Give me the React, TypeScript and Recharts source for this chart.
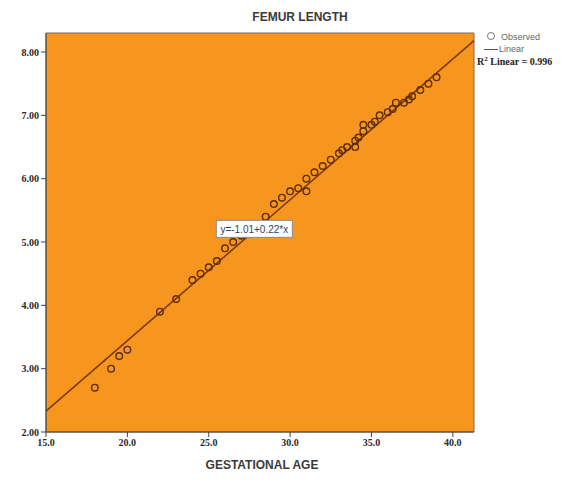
import React from "react";
import {
  ScatterChart,
  Scatter,
  XAxis,
  YAxis,
  ReferenceArea,
  ReferenceLine,
  ReferenceDot,
} from "recharts";

const gestAge = [
  18, 19, 19.5, 20, 22, 23, 24, 24.5, 25, 25.5, 26, 26.5, 27, 28.5, 29, 29.5, 30, 30.5, 31, 31, 31.5, 32,
  32.5, 33, 33.2, 33.5, 34, 34, 34.2, 34.5, 34.5, 35, 35.2, 35.5, 36, 36.3, 36.5, 37, 37.3, 37.5, 38, 38.5, 39,
];
const femurLength = [
  2.7, 3.0, 3.2, 3.3, 3.9, 4.1, 4.4, 4.5, 4.6, 4.7, 4.9, 5.0, 5.1, 5.4, 5.6, 5.7, 5.8, 5.85, 5.8, 6.0, 6.1, 6.2,
  6.3, 6.4, 6.45, 6.5, 6.6, 6.5, 6.65, 6.75, 6.85, 6.85, 6.9, 7.0, 7.05, 7.1, 7.2, 7.2, 7.25, 7.3, 7.4, 7.5, 7.6,
];

const xTicks = [15, 20, 25, 30, 35, 40];
const yTicks = [2, 3, 4, 5, 6, 7, 8];
const xDomain = [15, 41.3];
const yDomain = [2, 8.3];

// fitted line ends
const fitStart = { x: 15, y: 2.33 };
const fitEnd = { x: 41.3, y: 8.18 };
const equationText = "y=-1.01+0.22*x";
const equationPos = { x: 27.8, y: 5.2 };

const points = gestAge.map((x, i) => ({ x, y: femurLength[i] }));

const ORANGE = "#F7961E";
const DARK = "#5b2c06";

const tickStyle = {
  fontFamily: "'Liberation Serif', 'DejaVu Serif', serif",
  fontSize: 10,
  fontWeight: 700,
  fill: "#2a2a2a",
};

const EquationBox = (props: any) => {
  const { cx, cy } = props;
  return (
    <g>
      <rect x={cx - 38} y={cy - 9} width={76} height={17} fill="#fff" stroke="#8a8a8a" strokeWidth={1} />
      <text
        x={cx}
        y={cy + 3.5}
        textAnchor="middle"
        fontFamily="Arial, 'Liberation Sans', sans-serif"
        fontSize={10}
        fill="#34435e"
      >
        {equationText}
      </text>
    </g>
  );
};

export default function App() {
  return (
    <div style={{ position: "absolute", left: 0, top: 0, width: 574, height: 482, background: "#fff" }}>
      <div
        style={{
          position: "absolute",
          left: 200,
          width: 200,
          top: 10,
          textAlign: "center",
          fontFamily: "Arial, 'Liberation Sans', sans-serif",
          fontSize: 12,
          fontWeight: 700,
          color: "#3a3a3a",
        }}
      >
        FEMUR LENGTH
      </div>
      <ScatterChart width={574} height={482} margin={{ top: 33, right: 100, left: 6, bottom: 30 }}>
        <XAxis
          type="number"
          dataKey="x"
          domain={xDomain}
          ticks={xTicks}
          allowDataOverflow
          tickFormatter={(v) => v.toFixed(1)}
          tick={tickStyle}
          tickLine={{ stroke: "#444" }}
          axisLine={{ stroke: "#444" }}
          tickSize={5}
          height={20}
        />
        <YAxis
          type="number"
          dataKey="y"
          domain={yDomain}
          ticks={yTicks}
          allowDataOverflow
          tickFormatter={(v) => v.toFixed(2)}
          tick={tickStyle}
          tickLine={{ stroke: "#444" }}
          axisLine={{ stroke: "#444" }}
          tickSize={5}
          width={40}
        />
        <ReferenceArea
          x1={xDomain[0]}
          x2={xDomain[1]}
          y1={yDomain[0]}
          y2={yDomain[1]}
          fill={ORANGE}
          fillOpacity={1}
          stroke="#7a6a5a"
          strokeWidth={1}
        />
        <ReferenceLine
          segment={[fitStart, fitEnd]}
          stroke="#7a3b08"
          strokeWidth={1.6}
        />
        <Scatter
          data={points}
          isAnimationActive={false}
          shape={(p: any) => (
            <circle cx={p.cx} cy={p.cy} r={3.3} fill="none" stroke={DARK} strokeWidth={1.4} />
          )}
        />
        <ReferenceDot x={equationPos.x} y={equationPos.y} r={0} shape={EquationBox} />
      </ScatterChart>
      <div
        style={{
          position: "absolute",
          left: 197,
          width: 130,
          top: 458,
          textAlign: "center",
          fontFamily: "Arial, 'Liberation Sans', sans-serif",
          fontSize: 12,
          fontWeight: 700,
          color: "#3a3a3a",
          whiteSpace: "nowrap",
        }}
      >
        GESTATIONAL AGE
      </div>
      <div
        style={{
          position: "absolute",
          left: 484,
          top: 31,
          fontFamily: "Arial, 'Liberation Sans', sans-serif",
          fontSize: 9,
          color: "#666",
          lineHeight: "12px",
        }}
      >
        <div>
          <span
            style={{
              display: "inline-block",
              width: 6,
              height: 6,
              border: "1px solid #777",
              borderRadius: "50%",
              marginRight: 6,
              marginLeft: 3,
            }}
          />
          Observed
        </div>
        <div>
          <span
            style={{
              display: "inline-block",
              width: 14,
              borderTop: "1px solid #555",
              verticalAlign: "middle",
              marginRight: 1,
            }}
          />
          Linear
        </div>
      </div>
      <div
        style={{
          position: "absolute",
          left: 477,
          top: 55,
          fontFamily: "'Liberation Serif', 'DejaVu Serif', serif",
          fontSize: 10,
          fontWeight: 700,
          color: "#222",
          whiteSpace: "nowrap",
        }}
      >
        R<sup style={{ fontSize: 7 }}>2</sup> Linear = 0.996
      </div>
    </div>
  );
}
